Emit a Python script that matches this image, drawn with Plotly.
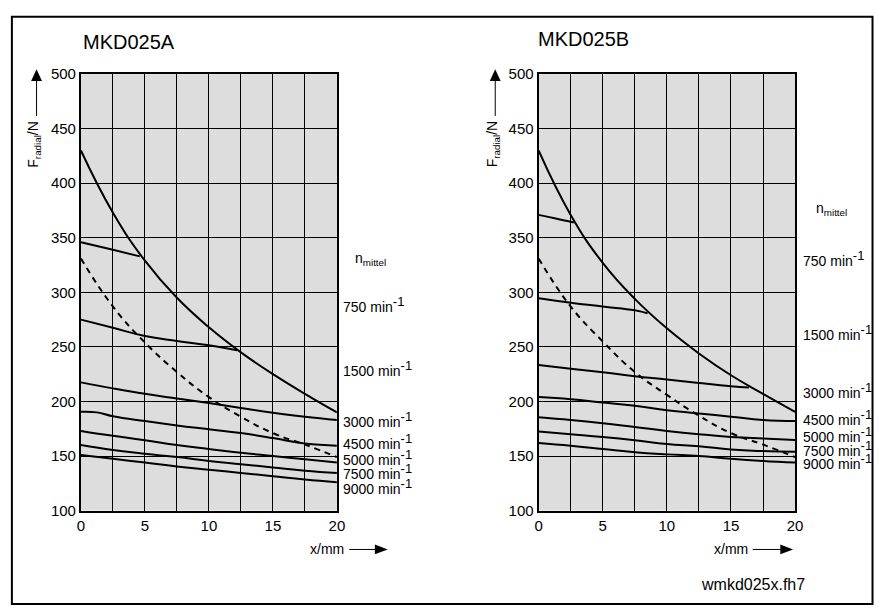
import plotly.graph_objects as go

W, H = 882, 608
FONT = "Liberation Sans, Arial, sans-serif"

# ---------------- data ----------------
X_FULL = [0, 2.5, 5, 7.5, 10, 12.5, 15, 17.5, 20]

# MKD025A
A_env = [430, 373, 329, 295, 268, 245, 225, 207, 190]
A_dash = [331, 287, 254, 227, 204, 186, 171, 160.5, 149]
A_750_x = [0, 2.5, 4.6]
A_750_y = [346, 339, 333]
A_1500_x = [0, 2.5, 5, 7.5, 10, 12.2]
A_1500_y = [275, 267.5, 260, 255.5, 251.5, 247]
A_3000 = [217.5, 212, 207, 202.7, 198.5, 194, 189.6, 186, 183]
A_4500_x = [0, 1.25, 2.5, 5, 7.5, 10, 12.5, 15, 17.5, 20]
A_4500_y = [190.5, 190, 186.5, 182, 178, 174.5, 171, 166.5, 161.5, 159.5]
A_5000 = [173, 168.5, 164.5, 160, 156.5, 153, 150, 147, 144]
A_7500 = [160, 155.5, 152, 149, 145.5, 142.5, 139.5, 136.5, 134.5]
A_9000 = [151, 147.5, 144, 140.5, 137.5, 134.5, 131.5, 128.5, 126]

# MKD025B
B_env = [430, 371, 327, 294, 267, 244, 224, 207, 190.5]
B_dash = [331, 287, 255, 227, 206, 187, 171, 160.5, 149]
B_750_x = [0, 1.25, 2.75]
B_750_y = [371, 368, 364]
B_1500_x = [0, 2.5, 5, 7.5, 8.5]
B_1500_y = [294.5, 290.5, 287, 283.5, 280.7]
B_3000_x = [0, 2.5, 5, 7.5, 10, 12.5, 15, 16.4]
B_3000_y = [233.5, 230, 226.7, 223.2, 220.2, 217, 214, 212.7]
B_4500 = [204, 202, 199, 196, 192, 189, 186, 183, 182]
B_5000 = [185.5, 183, 180, 176.5, 173, 170, 167.5, 166, 164.7]
B_7500 = [172.5, 170, 167.5, 164.5, 161, 159, 156, 154.5, 153.8]
B_9000 = [162, 159.5, 156.5, 153.5, 151.5, 150, 147.5, 145.5, 144]

SPEEDS = ["750", "1500", "3000", "4500", "5000", "7500", "9000"]
TITLES = ["MKD025A", "MKD025B"]
X_TICKS = [0, 5, 10, 15, 20]


def px(x):
    return x / W


def py(y):
    return 1 - y / H


fig = go.Figure()

solid = dict(color="black", width=2)


def add(x, y, xa, ya, dash=None):
    line = dict(solid)
    if dash:
        line["dash"] = dash
    line["shape"] = "spline"
    line["smoothing"] = 1.3
    fig.add_trace(go.Scatter(x=x, y=y, xaxis=xa, yaxis=ya, mode="lines",
                             line=line, hoverinfo="skip", showlegend=False))


# left chart
add(X_FULL, A_env, "x", "y")
add(X_FULL, A_dash, "x", "y", dash="6px,5px")
add(A_750_x, A_750_y, "x", "y")
add(A_1500_x, A_1500_y, "x", "y")
add(X_FULL, A_3000, "x", "y")
add(A_4500_x, A_4500_y, "x", "y")
add(X_FULL, A_5000, "x", "y")
add(X_FULL, A_7500, "x", "y")
add(X_FULL, A_9000, "x", "y")

# right chart
add(X_FULL, B_env, "x2", "y2")
add(X_FULL, B_dash, "x2", "y2", dash="6px,5px")
add(B_750_x, B_750_y, "x2", "y2")
add(B_1500_x, B_1500_y, "x2", "y2")
add(B_3000_x, B_3000_y, "x2", "y2")
add(X_FULL, B_4500, "x2", "y2")
add(X_FULL, B_5000, "x2", "y2")
add(X_FULL, B_7500, "x2", "y2")
add(X_FULL, B_9000, "x2", "y2")

xax = dict(range=[0, 20], tickvals=X_TICKS, showgrid=True, gridcolor="black",
           gridwidth=1, minor=dict(dtick=2.5, tick0=0, showgrid=True,
                                   gridcolor="black", gridwidth=1),
           showline=True, linecolor="black", linewidth=2, mirror=True,
           zeroline=False, ticks="", tickfont=dict(size=15, color="black", family=FONT),
           fixedrange=True)
yax = dict(range=[100, 500], dtick=50, tick0=100, showgrid=True, gridcolor="black",
           gridwidth=1, showline=True, linecolor="black", linewidth=2, mirror=True,
           zeroline=False, ticks="", tickfont=dict(size=15, color="black", family=FONT),
           fixedrange=True)

YD = [py(516), py(67)]
fig.update_layout(
    width=W, height=H,
    margin=dict(l=0, r=0, t=0, b=0),
    paper_bgcolor="white",
    plot_bgcolor="#dddddd",
    font=dict(family=FONT, color="black"),
    showlegend=False,
    xaxis=dict(xax, domain=[px(78), px(337.5)], anchor="y"),
    yaxis=dict(yax, domain=YD, anchor="x"),
    xaxis2=dict(xax, domain=[px(542), px(802)], anchor="y2"),
    yaxis2=dict(yax, domain=YD, anchor="x2"),
)

ann = []
shapes = []

# outer frame
shapes.append(dict(type="rect", xref="paper", yref="paper",
                   x0=px(8), x1=px(880.5), y0=py(612), y1=py(8),
                   line=dict(color="black", width=2)))


def text(x, y, s, size, xanchor="left", yanchor="middle", angle=0):
    ann.append(dict(x=px(x), y=py(y), xref="paper", yref="paper", text=s,
                    showarrow=False, xanchor=xanchor, yanchor=yanchor,
                    textangle=angle, font=dict(size=size, family=FONT, color="black")))


def arrow_up(x, y_tail, y_tip):
    shapes.append(dict(type="line", xref="paper", yref="paper", x0=px(x), x1=px(x),
                       y0=py(y_tail), y1=py(y_tip + 10), line=dict(color="black", width=1)))
    shapes.append(dict(type="path", xref="paper", yref="paper",
                       path=f"M {px(x-5.5)},{py(y_tip+12)} L {px(x+5.5)},{py(y_tip+12)} L {px(x)},{py(y_tip)} Z",
                       fillcolor="black", line=dict(color="black", width=0)))


def arrow_right(y, x_tail, x_tip):
    shapes.append(dict(type="line", xref="paper", yref="paper", x0=px(x_tail), x1=px(x_tip - 10),
                       y0=py(y), y1=py(y), line=dict(color="black", width=1)))
    shapes.append(dict(type="path", xref="paper", yref="paper",
                       path=f"M {px(x_tip-13)},{py(y-5)} L {px(x_tip-13)},{py(y+5)} L {px(x_tip)},{py(y)} Z",
                       fillcolor="black", line=dict(color="black", width=0)))


# titles
text(78, 34, TITLES[0], 20)
text(539, 31, TITLES[1], 20)

# axis titles and arrows
for xc in [31, 496]:
    text(xc, 139, "F<sub>radial</sub>/N", 14, xanchor="center", angle=-90)
for xc in [33, 498]:
    arrow_up(xc, 110, 62)
text(347, 556, "x/mm", 14, xanchor="right")
text(756, 556, "x/mm", 14, xanchor="right")
arrow_right(556, 350, 389)
arrow_right(556, 759, 800)

# curve labels
A_label_y = [307.5, 372.5, 425.8, 447.5, 464.5, 478.7, 493.8]
B_label_y = [259.5, 335.3, 395.3, 422.8, 440.5, 454.7, 469]
text(354, 257, "n<sub>mittel</sub>", 14)
text(821, 205.8, "n<sub>mittel</sub>", 14)
SUP = '<sup><span style="font-size:13px">-1</span></sup>'
for s, yl in zip(SPEEDS, A_label_y):
    text(342, yl - 3, f"{s} min{SUP}", 14)
for s, yl in zip(SPEEDS, B_label_y):
    text(808, yl - 3, f"{s} min{SUP}", 14)

text(759, 592, "wmkd025x.fh7", 16, xanchor="center")

fig.update_layout(annotations=ann, shapes=shapes)
fig.write_html("out.html")
